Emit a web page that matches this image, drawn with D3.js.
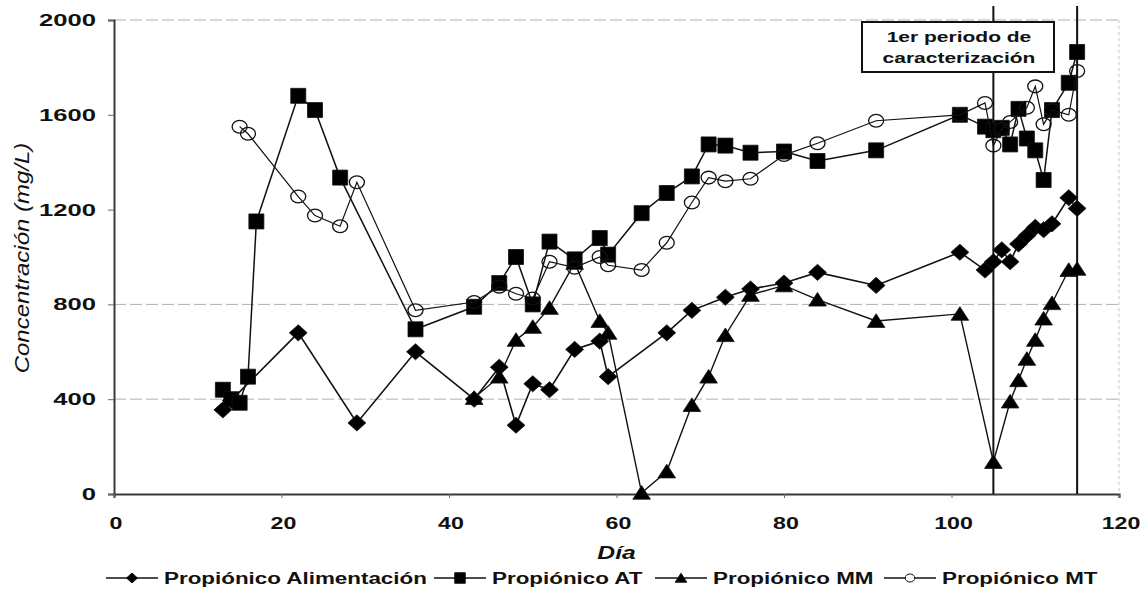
<!DOCTYPE html>
<html>
<head>
<meta charset="utf-8">
<script src="https://cdn.jsdelivr.net/npm/d3@7"></script>
<style>
  html, body { margin: 0; padding: 0; background: #fff; }
  svg { display: block; }
  text { font-family: "Liberation Sans", Arial, sans-serif; fill: #111; }
</style>
</head>
<body>
<svg id="chart" width="1144" height="594"></svg>
<script>
// Propionic acid concentration (mg/L) by day for the four sampling points
const alimDays   = [13, 14, 22, 29, 36, 43, 46, 48, 50, 52, 55, 58, 59, 66, 69, 73, 76, 80, 84, 91, 101, 104, 105, 106, 107, 108, 109, 110, 111, 112, 114, 115];
const alimValues = [355, 395, 680, 300, 600, 400, 535, 290, 465, 440, 610, 645, 495, 680, 775, 830, 865, 890, 935, 880, 1020, 945, 980, 1030, 980, 1055, 1090, 1125, 1115, 1140, 1250, 1205];

const atDays   = [13, 14, 15, 16, 17, 22, 24, 27, 36, 43, 46, 48, 50, 52, 55, 58, 59, 63, 66, 69, 71, 73, 76, 80, 84, 91, 101, 104, 105, 106, 107, 108, 109, 110, 111, 112, 114, 115];
const atValues = [440, 400, 385, 495, 1150, 1680, 1620, 1335, 695, 790, 890, 1000, 800, 1065, 990, 1080, 1010, 1185, 1270, 1340, 1475, 1470, 1440, 1445, 1405, 1450, 1600, 1550, 1535, 1545, 1475, 1625, 1500, 1450, 1325, 1620, 1735, 1865];

const mmDays   = [43, 46, 48, 50, 52, 55, 58, 59, 63, 66, 69, 71, 73, 76, 80, 84, 91, 101, 105, 107, 108, 109, 110, 111, 112, 114, 115];
const mmValues = [405, 495, 650, 705, 785, 975, 730, 680, 5, 95, 375, 495, 670, 840, 880, 820, 730, 760, 135, 390, 480, 570, 650, 740, 805, 945, 950];

const mtDays   = [15, 16, 22, 24, 27, 29, 36, 43, 46, 48, 50, 52, 55, 58, 59, 63, 66, 69, 71, 73, 76, 80, 84, 91, 101, 104, 105, 106, 107, 109, 110, 111, 112, 114, 115];
const mtValues = [1550, 1520, 1255, 1175, 1130, 1315, 775, 810, 875, 845, 825, 980, 955, 1000, 965, 945, 1060, 1230, 1335, 1320, 1330, 1430, 1480, 1575, 1600, 1650, 1470, 1540, 1570, 1630, 1720, 1560, 1620, 1600, 1785];

const seriesNames = ["Propiónico Alimentación", "Propiónico AT", "Propiónico MM", "Propiónico MT"];
const xTicks = [0, 20, 40, 60, 80, 100, 120];
const yTicks = [0, 400, 800, 1200, 1600, 2000];
const gridValues = [400, 800, 2000];
const periodDays = [105, 115];
const periodLabel = ["1er periodo de", "caracterización"];
const xTitle = "Día";
const yTitle = "Concentración (mg/L)";

const svg = d3.select("#chart");
const x = d3.scaleLinear().domain([0, 120]).range([114, 1119]);
const y = d3.scaleLinear().domain([0, 2000]).range([494, 20]);

// custom marker shapes
const diamond = { draw(ctx, size) { const r = Math.sqrt(size) / 2;
  ctx.moveTo(0, -r * 0.95); ctx.lineTo(r * 1.05, 0); ctx.lineTo(0, r * 0.95); ctx.lineTo(-r * 1.05, 0); ctx.closePath(); } };
const square = { draw(ctx, size) { const r = Math.sqrt(size) / 2;
  ctx.moveTo(-r, -r); ctx.lineTo(r, -r); ctx.lineTo(r, r); ctx.lineTo(-r, r); ctx.closePath(); } };
const triangle = { draw(ctx, size) { const r = Math.sqrt(size) / 2;
  ctx.moveTo(0, -r * 0.9); ctx.lineTo(r * 1.1, r * 0.8); ctx.lineTo(-r * 1.1, r * 0.8); ctx.closePath(); } };
const ellipse = { draw(ctx, size) { const r = Math.sqrt(size) / 2;
  const k = 0.5523, rx = r, ry = r * 0.85;
  ctx.moveTo(rx, 0);
  ctx.bezierCurveTo(rx, ry * k, rx * k, ry, 0, ry);
  ctx.bezierCurveTo(-rx * k, ry, -rx, ry * k, -rx, 0);
  ctx.bezierCurveTo(-rx, -ry * k, -rx * k, -ry, 0, -ry);
  ctx.bezierCurveTo(rx * k, -ry, rx, -ry * k, rx, 0);
  ctx.closePath(); } };

const series = [
  { name: seriesNames[0], days: alimDays, values: alimValues, shape: diamond,  size: 17 * 17, fill: "#000", lw: 1.6 },
  { name: seriesNames[1], days: atDays,   values: atValues,   shape: square,   size: 15 * 15, fill: "#000", lw: 1.5 },
  { name: seriesNames[2], days: mmDays,   values: mmValues,   shape: triangle, size: 16 * 16, fill: "#000", lw: 1.4 },
  { name: seriesNames[3], days: mtDays,   values: mtValues,   shape: ellipse,  size: 15 * 15, fill: "none", lw: 1.2 }
];

// helper for horizontally widened text
function wideText(g, str, px, py, opts) {
  return g.append("text")
    .attr("transform", `translate(${px},${py}) scale(${opts.sx || 1},1)`)
    .attr("text-anchor", opts.anchor || "middle")
    .attr("font-size", opts.size)
    .attr("font-weight", opts.weight || "bold")
    .attr("font-style", opts.style || "normal")
    .text(str);
}

// gridlines
svg.append("g").selectAll("line").data(gridValues).join("line")
  .attr("x1", x(0)).attr("x2", x(120))
  .attr("y1", d => y(d)).attr("y2", d => y(d))
  .attr("stroke", "#b0b0b0").attr("stroke-width", 1)
  .attr("stroke-dasharray", "12,4");

// faint right border of the plot area
svg.append("line").attr("x1", x(120)).attr("x2", x(120)).attr("y1", y(2000)).attr("y2", y(0))
  .attr("stroke", "#c4c4c4").attr("stroke-width", 1).attr("stroke-dasharray", "3,3");

// axes
const yAxis = svg.append("g").attr("transform", `translate(${x(0)},0)`)
  .call(d3.axisLeft(y).tickValues(yTicks).tickSize(6).tickFormat(d => ""));
yAxis.select(".domain").attr("stroke", "#3a3a3a").attr("stroke-width", 2);
yAxis.selectAll(".tick line").attr("stroke", "#666");

const xAxis = svg.append("g").attr("transform", `translate(0,${y(0)})`)
  .call(d3.axisBottom(x).tickValues(xTicks).tickSize(4).tickFormat(d => ""));
xAxis.select(".domain").attr("stroke", "#3a3a3a").attr("stroke-width", 2.2);
xAxis.selectAll(".tick line").attr("stroke", "#666");

const labels = svg.append("g");
yTicks.forEach(v => wideText(labels, String(v), 96, y(v) + 6, { size: 16, anchor: "end", sx: 1.6 }));
xTicks.forEach(v => wideText(labels, String(v), x(v) + 2, 529, { size: 16, sx: 1.45 }));

wideText(labels, xTitle, x(60), 559, { size: 19, style: "italic", sx: 1.3 });
labels.append("text")
  .attr("transform", `translate(29,258) rotate(-90) scale(1.2,1)`)
  .attr("text-anchor", "middle").attr("font-size", 20).attr("font-style", "italic")
  .text(yTitle);

// period markers
svg.append("g").selectAll("line").data(periodDays).join("line")
  .attr("x1", d => x(d)).attr("x2", d => x(d))
  .attr("y1", 6).attr("y2", y(0))
  .attr("stroke", "#111").attr("stroke-width", 2);

// series lines and markers
const line = d3.line().x(d => x(d[0])).y(d => y(d[1]));
series.forEach(s => {
  const pts = s.days.map((d, i) => [d, s.values[i]]);
  svg.append("path").datum(pts)
    .attr("d", line).attr("fill", "none")
    .attr("stroke", "#111").attr("stroke-width", s.lw);
  svg.append("g").selectAll("path").data(pts).join("path")
    .attr("transform", d => `translate(${x(d[0])},${y(d[1])})`)
    .attr("d", d3.symbol().type(s.shape).size(s.size))
    .attr("fill", s.fill)
    .attr("stroke", "#111").attr("stroke-width", s.fill === "none" ? 1.3 : 0.8);
});

// annotation box
const box = svg.append("g");
box.append("rect").attr("x", 862).attr("y", 22).attr("width", 192).attr("height", 50)
  .attr("fill", "#fff").attr("stroke", "#111").attr("stroke-width", 2);
wideText(box, periodLabel[0], 959, 42, { size: 15, sx: 1.4 });
wideText(box, periodLabel[1], 959, 63, { size: 15, sx: 1.4 });

// legend
const legendX = [106, 434, 655, 884];
const legend = svg.append("g");
series.forEach((s, i) => {
  const lx = legendX[i], ly = 578;
  legend.append("line").attr("x1", lx).attr("x2", lx + 52).attr("y1", ly).attr("y2", ly)
    .attr("stroke", "#111").attr("stroke-width", 1.5);
  legend.append("path").attr("transform", `translate(${lx + 26},${ly})`)
    .attr("d", d3.symbol().type(s.shape).size(s === series[3] ? 90 : 110))
    .attr("fill", s.fill === "none" ? "#fff" : s.fill)
    .attr("stroke", "#111").attr("stroke-width", 1);
  wideText(legend, s.name, lx + 58, ly + 6, { size: 16, anchor: "start", sx: 1.4 });
});
</script>
</body>
</html>
